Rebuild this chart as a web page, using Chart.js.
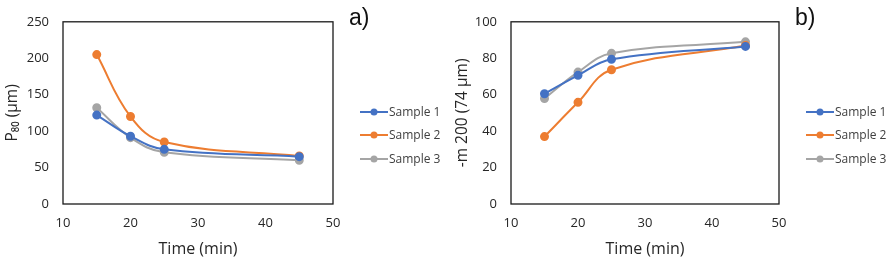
<!DOCTYPE html>
<html><head><meta charset="utf-8">
<script src="https://cdn.jsdelivr.net/npm/chart.js@4/dist/chart.umd.min.js"></script>
<style>
html,body{margin:0;padding:0;background:#fff;}
#wrap{position:relative;width:892px;height:267px;}
.pane{position:absolute;top:0;width:446px;height:267px;}
</style></head>
<body>
<div id="wrap">
<div class="pane" style="left:0"><canvas id="ca" width="446" height="267"></canvas></div>
<div class="pane" style="left:446px"><canvas id="cb" width="446" height="267"></canvas></div>
</div>
<script>
const times = [15, 20, 25, 45];
const seriesNames = ['Sample 1', 'Sample 2', 'Sample 3'];
const p80_s1 = [122, 93, 75, 65];
const p80_s2 = [205, 120, 85, 66];
const p80_s3 = [132, 91, 71, 60];
const m200_s1 = [60.5, 70.6, 79.4, 86.5];
const m200_s2 = [37, 55.8, 73.7, 87];
const m200_s3 = [57.9, 72.4, 82.7, 89];
const xTicks = [10, 20, 30, 40, 50];
const yTicksA = [0, 50, 100, 150, 200, 250];
const yTicksB = [0, 20, 40, 60, 80, 100];

const colors = ['#4472C4', '#ED7D31', '#A5A5A5'];
const FONT = "'Open Sans', sans-serif";

function ds(vals, i) {
  return {
    label: seriesNames[i],
    data: times.map((t, k) => ({x: t, y: vals[k]})),
    borderColor: colors[i], backgroundColor: colors[i],
    borderWidth: 2, pointRadius: 3.5, pointHoverRadius: 3.5,
    tension: 0.4, fill: false
  };
}

function makeChart(id, sets, yTicks, yTitle, tag, chartLeft, yTitlePad) {
  const framePlugin = {
    id: 'frame',
    afterDraw(chart) {
      const c = chart.ctx, a = chart.chartArea;
      c.save();
      c.strokeStyle = '#1a1a1a'; c.lineWidth = 1.3;
      c.strokeRect(a.left, a.top, a.right - a.left, a.bottom - a.top);
      c.fillStyle = '#111';
      c.font = "23px 'Liberation Sans', Arial, sans-serif";
      c.textBaseline = 'middle'; c.textAlign = 'left';
      c.fillText(tag, 349, 19);
      const rows = [112, 135, 159];
      c.font = "12px " + FONT;
      chart.data.datasets.forEach((d, i) => {
        const y = rows[i], x0 = 360;
        c.strokeStyle = d.borderColor; c.lineWidth = 2;
        c.beginPath(); c.moveTo(x0, y); c.lineTo(x0 + 28, y); c.stroke();
        c.fillStyle = d.borderColor;
        c.beginPath(); c.arc(x0 + 14, y, 3.5, 0, Math.PI * 2); c.fill();
        c.fillStyle = '#404040';
        c.fillText(d.label, x0 + 29, y + 1);
      });
      c.restore();
    }
  };
  return new Chart(document.getElementById(id), {
    type: 'line',
    data: {datasets: sets},
    plugins: [framePlugin],
    options: {
      responsive: false, animation: false,
      layout: {padding: {left: 0, top: 11, right: 446 - 333, bottom: 0}},
      plugins: {legend: {display: false}, tooltip: {enabled: false}},
      scales: {
        x: {
          type: 'linear', min: 10, max: 50,
          afterBuildTicks: s => { s.ticks = xTicks.map(v => ({value: v})); },
          afterFit: s => { s.height = 267 - 204; },
          grid: {display: false, drawTicks: false},
          border: {display: false},
          ticks: {font: {family: FONT, size: 13}, color: '#262626', padding: 11},
          title: {display: true, text: 'Time (min)', font: {family: FONT, size: 16}, color: '#262626', padding: {top: 4, bottom: 8}}
        },
        y: {
          min: yTicks[0], max: yTicks[yTicks.length - 1],
          afterBuildTicks: s => { s.ticks = yTicks.map(v => ({value: v})); },
          afterFit: s => { s.width = chartLeft; },
          grid: {display: false, drawTicks: false},
          border: {display: false},
          ticks: {font: {family: FONT, size: 13}, color: '#262626', padding: 14},
          title: {display: true, text: yTitle, font: {family: FONT, size: 15.5}, color: '#262626', padding: {top: yTitlePad, bottom: 4}}
        }
      }
    }
  });
}

makeChart('ca', [ds(p80_s1, 0), ds(p80_s2, 1), ds(p80_s3, 2)], yTicksA, 'P\u2088\u2080 (µm)', 'a)', 63, 3);
makeChart('cb', [ds(m200_s1, 0), ds(m200_s2, 1), ds(m200_s3, 2)], yTicksB, '-m 200 (74 µm)', 'b)', 65, 7);
</script>
</body></html>
